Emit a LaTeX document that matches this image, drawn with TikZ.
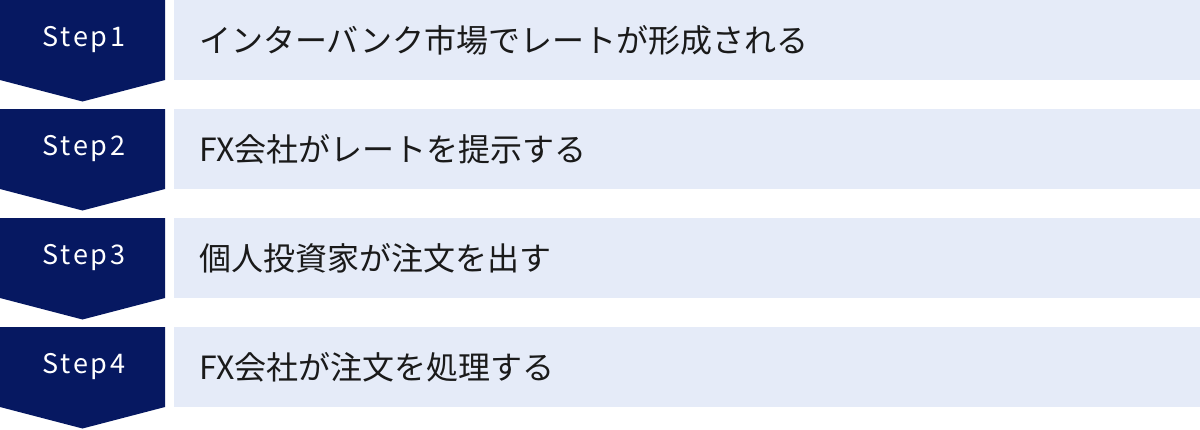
\documentclass[tikz,border=0pt]{standalone}
\usepackage{fontspec}
\setmainfont{Noto Sans CJK JP}
\newfontfamily\stepfont[LetterSpace=10]{Noto Sans CJK JP}
\definecolor{navy}{HTML}{061861}
\definecolor{pale}{HTML}{E5EBF8}
\definecolor{ink}{HTML}{1A1A1A}
\begin{document}
\begin{tikzpicture}[x=1pt,y=1pt,
  stepshape/.style={fill=navy,draw=none},
  barbox/.style={fill=pale,draw=none},
  steplabel/.style={text=white,inner sep=0pt,font=\stepfont\fontsize{27}{30}\selectfont},
  bartext/.style={text=ink,inner sep=0pt,anchor=west,font=\fontsize{32}{38}\selectfont}]
\useasboundingbox (0,0) rectangle (1200,-429);
\foreach \k/\txt in {0/インターバンク市場でレートが形成される,1/FX会社がレートを提示する,2/個人投資家が注文を出す,3/FX会社が注文を処理する}{
  \pgfmathsetmacro{\top}{-109*\k}
  \fill[stepshape] (0,\top) -- (165,\top) -- (165,\top-80) -- (82.5,\top-101.5) -- (0,\top-80) -- cycle;
  \fill[barbox] (174,\top) rectangle (1200,\top-80);
  \pgfmathtruncatemacro{\n}{\k+1}
  \node[steplabel] (s\n) at (84,\top-40) {Step\n};
  \node[bartext] (t\n) at (199,\top-40) {\txt};
}
\end{tikzpicture}
\end{document}
